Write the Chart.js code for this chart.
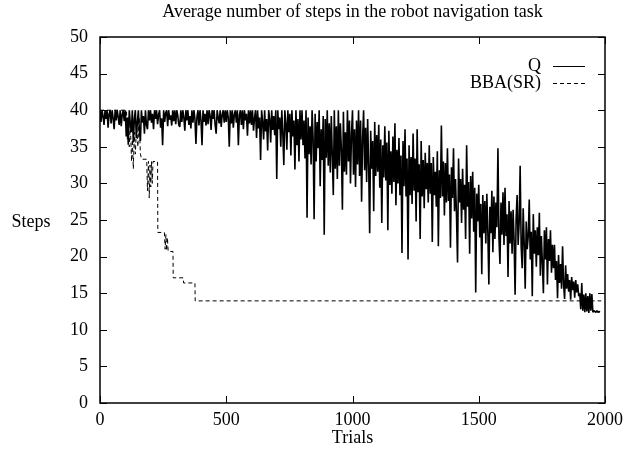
<!DOCTYPE html>
<html>
<head>
<meta charset="utf-8">
<script src="https://cdn.jsdelivr.net/npm/chart.js@4"></script>
<style>
  html, body { margin: 0; padding: 0; background: #fff; }
  #wrap { width: 626px; height: 449px; }
</style>
</head>
<body>
<div id="wrap"><canvas id="chart" width="626" height="449"></canvas></div>
<script>
// Q: one reading every 4 trials
const qStart = 0;
const qStep = 4;
const qSteps = [
  40,38.4,40,39.2,38,40,38.8,40,37.6,39.5,40,38.2,40,38.9,37.4,40,38.6,40,39.1,38,40,37.8,39.4,40,38.5,
  40,36.4,39,35.3,40,38.2,37,40,35.6,38.8,40,36.2,38.4,40,37,35.8,40,38.3,39.2,36.8,40,38,37.4,40,38.6,
  40,38.3,39.5,37.4,40,38.8,40,38.1,39.4,40,37.6,38.9,35.2,40,38.4,39.6,40,37.8,40,38.7,39.3,37.9,40,38.5,40,
  38.1,40,39.3,38,37.7,40,38.4,40,39,37.2,40,38.6,40,38,39.2,37.5,40,38.3,40,38.8,35.4,39.1,40,37.9,40,
  38.6,35.2,40,38.4,39.5,37.9,40,38.1,40,39.3,37.3,40,38.8,40,38,36.8,40,39,38.2,40,37.7,39.4,40,38.3,40,
  38.4,40,39,35.0,40,38.2,40,37.6,39.4,40,38.3,40,35.2,39.3,40,38,40,37.4,40,38.6,39.5,36.5,40,38.2,40,
  38,40,37.2,38.9,40,36.2,40,37.5,39,33.2,40,38.4,36,40,37.1,38.8,34.5,40,38.8,35.6,40,37.3,39.2,36.6,40,
  30.6,40,37.4,39,35,40,36.8,32.5,40,38.2,34.6,40,37,39.5,33.8,40,36.4,38.6,31.9,40,35.2,38.8,33,40,36,
  40,35.2,38.6,33.4,40,25.3,39,34,37.8,32.6,40,36.2,25.1,39.5,33,38.4,34.8,40,29.6,37.4,33.2,39.2,23,38.8,33.5,
  40,32.4,38.2,31.5,39.2,33.8,28.4,40,32,37.8,30.6,40,32.4,38.2,34.6,26.4,39.8,31.6,37,31.2,40,33,38.6,30,36.8,
  40,31.2,37.4,29.5,38.6,32.6,40,31,38.6,27.5,36.2,40,31.8,37.6,30.2,38.8,32.4,23.2,37.2,32,35.8,26.2,38.4,31,36.6,
  31.6,38,29.4,36,24.6,35.2,30.8,37.8,30.4,35.6,23.6,37.2,29.8,34.4,28.6,36.4,30.2,38.2,27,34.6,30,36.2,28.4,33.8,20.5,
  35.8,29.6,37.4,28.2,33.4,19.6,35.2,28.4,33.6,27.2,36.8,29,33.4,24.8,37.4,28.8,32.6,22.4,35.8,28.2,33.2,26.6,34.2,29.2,32.8,
  27.4,35.2,28.6,32.8,22,33.6,28.4,31.6,26.8,34.4,21.4,31.8,28,37.9,28.2,33,25.6,32.8,27.4,34.8,27.6,31.2,21.2,32.2,28,
  34.8,26.2,30.6,25.4,19.2,33.4,27.4,30.6,24.6,32,26.4,29.8,22.4,35.2,26.8,30.2,20.4,31,25.2,31.6,23.4,29.4,15.1,28.6,24.8,
  29.8,22.6,27.2,17.6,28.4,23.2,27.6,21.8,28.6,23.4,16.2,26.8,23.2,29,20.6,28.2,22.4,27.4,24,34.8,22.6,19,27.4,23,28.8,
  21.6,29.4,22.8,25.8,17.2,27.6,21.8,26.2,20.4,26.4,22.2,14.8,25.2,28.4,21.6,24.6,32.4,21.4,18.4,26.6,21.8,15.6,24.8,21,22.8,
  27.8,19.6,23.4,14.6,25.8,20.4,23.6,18.6,24,20.2,26,17.4,22.8,19.2,15,23.6,19.6,24,16.2,22.4,19.4,23.6,17.8,21.6,18.4,
  21.6,16.8,19.4,14.3,20.2,16.4,19,15.6,21.4,16.2,14.2,18.8,15.6,17.6,15.2,16.8,14.1,17.2,15.4,16.6,14.4,16.8,15.1,16.2,14.6,
  15,12.8,16.4,12.6,14.8,12.4,15,12.5,14.6,12.3,15,12.6,14.9,12.4,12.6,12.5,12.4,12.6,12.4,12.5,12.4
];

// BBA(SR): corner points of the dashed curve
const bbaTrials = [0,105,108,112,116,120,125,128,132,136,140,145,150,155,160,165,185,188,192,195,198,201,204,207,210,228,229,255,258,261,264,267,270,289,290,330,331,376,377,1985];
const bbaSteps  = [40,40,36,39,35,38,33,36,32,37,34,38,35,39,34,33.3,33.3,29,33,28,32.5,29.5,33,30,33,33,23.3,23.3,21,23,20.8,22.6,20.7,20.7,17.1,17.1,16.4,16.4,13.95,13.95];

const seriesNames = ['Q', 'BBA(SR)'];
const titleText = 'Average number of steps in the robot navigation task';
const xTitle = 'Trials';
const yTitle = 'Steps';

const FONT = "'Liberation Serif', 'Times New Roman', serif";
const qData = qSteps.map((v, i) => ({ x: qStart + i * qStep, y: v }));
const bbaData = bbaTrials.map((t, i) => ({ x: t, y: bbaSteps[i] }));

const framePlugin = {
  id: 'frame',
  afterDatasetsDraw(chart) {
    const { ctx, chartArea: a, scales } = chart;
    ctx.save();
    ctx.strokeStyle = '#000';
    ctx.lineWidth = 1.5;
    ctx.strokeRect(a.left, a.top, a.right - a.left, a.bottom - a.top);
    ctx.lineWidth = 1;
    ctx.beginPath();
    scales.x.ticks.forEach(t => {
      const px = Math.round(scales.x.getPixelForValue(t.value)) + 0.5;
      ctx.moveTo(px, a.bottom); ctx.lineTo(px, a.bottom - 7);
      ctx.moveTo(px, a.top); ctx.lineTo(px, a.top + 7);
    });
    scales.y.ticks.forEach(t => {
      const py = Math.round(scales.y.getPixelForValue(t.value)) + 0.5;
      ctx.moveTo(a.left, py); ctx.lineTo(a.left + 7, py);
      ctx.moveTo(a.right, py); ctx.lineTo(a.right - 7, py);
    });
    ctx.stroke();

    ctx.font = '18px ' + FONT;
    ctx.fillStyle = '#000';
    ctx.textBaseline = 'middle';

    // title centred over the plot, as gnuplot does
    ctx.textAlign = 'center';
    ctx.fillText(titleText, (a.left + a.right) / 2, 12);

    // gnuplot-style key, top right
    ctx.textAlign = 'right';
    const rows = [66, 83];
    chart.data.datasets.forEach((ds, i) => {
      ctx.fillText(ds.label, 541, rows[i]);
      ctx.beginPath();
      ctx.lineWidth = 1;
      ctx.setLineDash(ds.borderDash || []);
      ctx.moveTo(553, rows[i] + 0.5);
      ctx.lineTo(585, rows[i] + 0.5);
      ctx.stroke();
    });
    ctx.setLineDash([]);

    // horizontal y title
    ctx.textAlign = 'center';
    ctx.fillText(yTitle, 31, (a.top + a.bottom) / 2 + 2);
    ctx.restore();
  }
};

new Chart(document.getElementById('chart'), {
  type: 'line',
  data: {
    datasets: [
      { label: seriesNames[0], data: qData, borderColor: '#000', borderWidth: 1.6, borderJoinStyle: 'bevel', pointRadius: 0, tension: 0 },
      { label: seriesNames[1], data: bbaData, borderColor: '#000', borderWidth: 1, borderDash: [4, 3], pointRadius: 0, tension: 0 }
    ]
  },
  options: {
    responsive: false,
    animation: false,
    events: [],
    layout: { padding: { left: 0, right: 21, top: 37, bottom: 0 } },
    plugins: {
      legend: { display: false },
      tooltip: { enabled: false },
      title: { display: false }
    },
    scales: {
      x: {
        type: 'linear',
        min: 0, max: 2000,
        afterFit: s => { s.height = 46; s.paddingLeft = 0; s.paddingRight = 0; },
        grid: { display: false, drawTicks: false },
        border: { display: false },
        ticks: { stepSize: 500, padding: 6, color: '#000', font: { family: FONT, size: 18 }, maxRotation: 0, callback: v => String(v) },
        title: { display: true, text: xTitle, color: '#000', font: { family: FONT, size: 18 }, padding: { top: 0, bottom: 0 } }
      },
      y: {
        min: 0, max: 50,
        afterFit: s => { s.width = 100; s.paddingTop = 0; s.paddingBottom = 0; },
        grid: { display: false, drawTicks: false },
        border: { display: false },
        ticks: { stepSize: 5, padding: 12, color: '#000', font: { family: FONT, size: 18 }, callback: v => String(v) }
      }
    }
  },
  plugins: [framePlugin]
});
</script>
</body>
</html>
